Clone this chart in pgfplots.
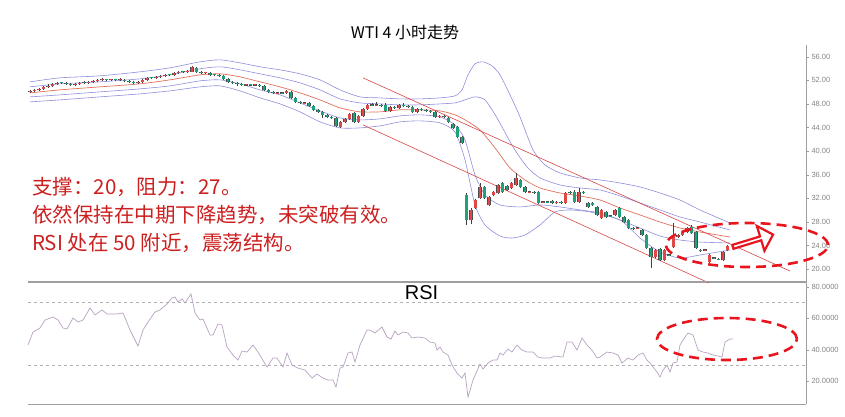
\documentclass[border=0pt]{standalone}
\usepackage{pgfplots}
\pgfplotsset{compat=1.18}
\usepackage{pgfplotstable}
\usepackage{fontspec}
\setmainfont{Liberation Sans}
\newfontfamily\cjk{Noto Sans CJK SC}
\usetikzlibrary{shapes.arrows}
\definecolor{upc}{HTML}{E04848}
\definecolor{dnc}{HTML}{1FA27A}
\definecolor{band}{HTML}{8E8EDC}
\definecolor{midc}{HTML}{E0705A}
\definecolor{chan}{HTML}{D84545}
\definecolor{rsic}{HTML}{B8A2C2}
\definecolor{annot}{HTML}{CC1F1F}
\definecolor{tickc}{HTML}{858585}
\definecolor{ellc}{HTML}{E8141E}

% up (red) candles: x, body bottom, body top, low, high
\pgfplotstableread{
x bot top low high
30 50.05 50.22 49.85 50.45
34.5 50.22 50.39 50.05 50.6
39 50.39 50.56 50.2 50.75
43.5 50.56 50.90 50.4 51.1
48 50.90 51.07 50.7 51.3
52.5 51.07 51.41 50.9 51.6
57 51.41 51.58 51.25 51.8
75 51.24 51.41 51.1 51.6
79.5 51.41 51.58 51.25 51.75
88.5 51.58 51.75 51.4 51.95
93 51.75 51.92 51.6 52.1
97.5 51.92 52.09 51.75 52.3
102 52.03 52.15 51.9 52.35
111 52.03 52.15 51.9 52.3
120 52.03 52.15 51.85 52.35
138 51.58 51.75 51.45 51.9
142.5 51.75 52.09 51.6 52.25
147 52.09 52.43 51.95 52.6
156 52.43 52.60 52.3 52.8
160.5 52.60 52.77 52.45 52.95
165 52.77 52.94 52.6 53.1
174 52.94 53.28 52.8 53.45
178.5 53.28 53.45 53.1 53.6
187.5 53.45 53.62 53.3 53.8
192 53.45 54.30 53.35 54.5
205.5 53.22 53.34 53.1 53.5
246 51.18 51.30 51.05 51.45
255 51.18 51.30 51.0 51.45
277.5 49.82 49.94 49.7 50.1
286.5 49.88 50.22 49.7 50.4
304.5 48.12 48.24 48.0 48.4
340.5 44.11 44.96 43.95 45.1
345 44.96 45.47 44.8 45.6
349.5 45.47 46.32 45.3 46.5
358.5 44.96 45.98 44.8 46.1
363 45.98 47.16 45.8 47.3
367.5 47.16 47.84 47.0 48.0
376.5 47.78 47.90 47.6 48.3
390 46.83 47.50 46.7 47.6
399 47.33 47.84 47.2 48.0
417 46.66 47.16 46.5 47.3
439.5 45.81 45.98 45.65 46.15
471 28.32 30.02 27.64 30.36
475.5 30.36 31.71 30.19 31.9
480 32.05 33.92 31.9 34.60
489 30.87 32.22 30.7 32.4
493.5 32.56 33.07 32.4 33.24
498 32.90 34.26 32.7 34.5
511.5 33.75 34.60 33.6 34.8
516 34.26 35.45 34.1 36.30
529.5 33.01 33.13 32.9 33.3
543 31.32 31.44 31.2 31.6
556.5 31.2 31.32 31.04 31.5
565.5 31.21 32.90 31.04 33.07
579 31.38 33.07 31.21 33.75
601.5 28.66 30.02 28.5 30.19
615 29.17 30.02 29.0 30.19
637.5 26.9 27.02 26.79 27.2
655.5 22.04 23.23 21.87 23.40
664.5 21.53 23.23 21.36 23.40
673.5 23.74 25.43 23.57 27.81
678 25.43 25.77 25.3 25.94
682.5 25.77 26.28 25.6 26.45
687 26.28 26.96 26.11 27.13
705 23.17 23.29 23.0 23.4
709.5 21.19 22.38 21.0 22.55
723 21.53 22.89 21.36 23.06
727.5 23.23 23.91 23.06 24.07
}\uptab

% down (green) candles
\pgfplotstableread{
x bot top low high
61.5 51.52 51.64 51.35 51.8
66 51.41 51.58 51.25 51.75
70.5 51.24 51.41 51.1 51.6
84 51.52 51.64 51.35 51.85
106.5 52.03 52.15 51.85 52.3
115.5 52.03 52.15 51.9 52.3
124.5 51.92 52.09 51.75 52.25
129 51.75 51.92 51.6 52.1
133.5 51.58 51.75 51.4 51.9
151.5 52.37 52.49 52.2 52.65
169.5 52.88 53.00 52.75 53.15
183 53.39 53.51 53.25 53.65
196.5 53.45 54.13 53.3 54.3
201 53.28 53.45 53.1 53.6
210 52.94 53.28 52.8 53.4
214.5 52.88 53.00 52.75 53.15
219 52.77 52.94 52.6 53.1
223.5 52.26 52.77 52.1 52.9
228 51.75 52.26 51.6 52.4
232.5 51.58 51.75 51.4 51.9
237 51.41 51.58 51.1 51.7
241.5 51.24 51.41 51.1 51.55
250.5 51.18 51.30 51.05 51.45
259.5 51.07 51.24 50.9 51.4
264 50.39 51.07 50.2 51.2
268.5 50.05 50.39 49.9 50.55
273 49.88 50.05 49.7 50.2
282 49.82 49.94 49.7 50.1
291 49.03 50.05 48.9 50.2
295.5 48.35 49.03 48.2 49.2
300 48.18 48.35 48.0 48.5
309 47.67 48.18 47.5 48.3
313.5 47.00 47.67 46.8 47.8
318 46.66 47.00 46.5 47.15
322.5 46.15 46.66 45.7 46.8
327 45.81 46.15 45.65 46.3
331.5 45.64 45.81 45.5 46.0
336 44.28 45.64 44.1 45.8
354 44.96 46.49 44.8 46.6
372 47.78 47.90 47.6 48.2
381 47.67 47.84 47.5 48.0
385.5 46.83 47.84 46.7 48.2
394.5 47.33 47.50 47.2 47.65
403.5 47.67 47.84 47.5 48.1
408 47.50 47.67 47.35 47.8
412.5 46.66 47.50 46.5 47.65
421.5 47.00 47.16 46.85 47.3
426 46.83 47.00 46.7 47.15
430.5 46.66 46.83 46.5 47.0
435 45.81 46.66 45.7 46.8
444 45.81 45.98 45.65 46.1
448.5 44.96 45.64 44.8 45.8
453 43.94 44.62 43.8 44.8
457.5 42.41 44.11 42.2 44.3
462 41.39 42.41 41.2 42.6
466.5 28.32 32.56 27.47 32.90
484.5 32.05 33.92 31.9 34.1
502.5 33.07 34.60 32.9 34.8
507 33.41 34.09 33.24 34.26
520.5 33.92 35.11 33.75 35.3
525 33.07 33.92 32.9 34.1
534 32.95 33.07 32.8 33.24
538.5 31.21 33.07 31.04 33.24
547.5 31.32 31.44 31.15 31.6
552 31.21 31.55 31.04 31.7
561 31.25 31.37 31.1 31.5
570 32.88 33.0 32.73 33.24
574.5 31.38 33.07 31.21 33.4
583.5 32.95 33.07 32.8 33.24
588 30.53 31.21 30.36 31.38
592.5 30.87 31.21 30.7 31.38
597 29.17 30.53 29.0 30.7
606 28.83 29.68 28.66 29.85
610.5 28.95 29.07 28.8 29.2
619.5 28.83 30.36 28.66 30.53
624 27.98 28.83 27.8 29.0
628.5 26.96 28.32 26.79 28.5
633 26.85 26.97 26.7 27.13
642 25.77 26.62 25.6 26.79
646.5 23.57 25.77 23.4 25.94
651 22.04 23.57 20.17 23.74
660 21.53 23.40 21.36 23.57
669 22.3 22.42 22.2 22.6
691.5 26.11 27.13 25.94 27.47
696 23.57 26.28 23.4 26.45
700.5 23.06 23.18 22.9 23.4
714 21.81 21.93 21.7 22.1
718.5 21.6 21.72 21.45 21.87
}\dntab

\begin{document}
\begin{tikzpicture}[x=1pt,y=1pt]
% ---------------- price panel ----------------
\begin{axis}[
  at={(28pt,134pt)}, anchor=south west,
  width=778pt, height=237pt, scale only axis,
  xmin=28, xmax=806, ymin=17.8, ymax=58,
  axis x line*=bottom, axis y line*=right,
  axis line style={draw=gray!75, -},
  xtick=\empty,
  ytick={20,24,...,56},
  tick align=outside, major tick length=3pt,
  tick style={draw=gray!75},
  yticklabel style={font=\fontsize{7.5}{8}\selectfont, text=tickc, xshift=-1pt},
  /pgf/number format/fixed, /pgf/number format/fixed zerofill,
  /pgf/number format/precision=2, /pgf/number format/assume math mode=true,
  clip=true,
]
% Bollinger-type bands
\addplot[band, line width=0.6pt, smooth, tension=0.4] coordinates {
(30,51.75)(60,52.43)(100,52.77)(140,53.45)(170,54.13)(200,55.14)(220,55.48)(240,54.97)(260,54.30)(280,53.79)(300,53.11)(320,52.09)(340,50.39)(360,49.20)(380,49.03)(400,48.86)(420,48.86)(440,49.03)(455,49.37)(462,50.39)(468,52.94)(475,54.80)(483,55.14)(492,54.47)(500,52.94)(510,49.54)(520,45.81)(533,40.20)(545,37.66)(560,36.30)(580,35.45)(600,35.11)(620,34.60)(640,33.92)(660,32.90)(680,31.71)(700,30.02)(730,27.81)};
\addplot[band, line width=0.6pt, smooth, tension=0.4] coordinates {
(30,50.90)(60,51.41)(100,51.75)(140,52.26)(170,52.94)(200,53.96)(220,54.30)(240,53.79)(260,53.11)(280,52.43)(300,51.58)(320,50.39)(340,48.86)(360,48.18)(380,48.01)(400,47.84)(420,47.84)(440,48.01)(455,48.18)(465,48.69)(475,49.20)(485,48.69)(497,45.64)(513,40.71)(527,37.32)(540,35.45)(560,34.26)(580,33.75)(600,33.41)(620,32.39)(640,31.21)(660,30.02)(680,28.83)(700,27.98)(730,26.62)};
\addplot[band, line width=0.6pt, smooth, tension=0.4] coordinates {
(30,49.20)(60,49.54)(100,50.05)(140,50.56)(170,51.07)(200,51.92)(220,52.09)(240,51.41)(260,50.39)(280,49.54)(300,48.18)(320,46.83)(340,45.64)(360,45.30)(380,45.47)(400,45.98)(420,46.15)(440,45.81)(455,44.45)(465,41.90)(475,35.96)(485,32.56)(500,30.87)(520,30.53)(540,30.87)(560,30.53)(580,30.02)(600,29.51)(620,28.32)(640,26.96)(660,25.60)(680,24.92)(700,24.58)(730,24.41)};
\addplot[band, line width=0.6pt, smooth, tension=0.4] coordinates {
(30,48.35)(60,48.69)(100,49.20)(140,49.71)(170,50.22)(200,50.90)(220,51.07)(240,50.22)(260,49.03)(280,48.01)(300,46.66)(320,44.96)(340,43.94)(360,43.94)(380,44.28)(400,44.96)(420,45.13)(440,44.79)(455,43.26)(465,38.51)(475,30.87)(485,27.47)(500,25.60)(512,25.26)(525,25.77)(540,27.47)(555,29.68)(570,30.02)(590,29.68)(620,28.32)(640,25.26)(660,22.89)(680,21.87)(700,22.38)(730,23.23)};
\addplot[midc, line width=0.7pt, smooth, tension=0.4] coordinates {
(30,49.88)(60,50.39)(100,50.90)(140,51.41)(170,52.09)(200,52.94)(220,53.11)(240,52.60)(260,51.75)(280,50.90)(300,49.88)(320,48.69)(340,47.33)(360,46.66)(380,46.66)(400,47.00)(420,47.00)(440,46.83)(455,46.15)(465,45.30)(480,43.60)(495,40.54)(510,37.15)(525,35.11)(540,33.75)(560,32.90)(580,32.39)(600,31.71)(620,30.36)(640,29.17)(660,27.98)(680,26.96)(700,26.28)(730,25.43)};
% channel lines
\addplot[chan, line width=0.6pt] coordinates {(363,52.43) (790,19.66)};
\addplot[chan, line width=0.6pt] coordinates {(363,44.45) (720,16.78)};
% wicks
\addplot[draw=none, mark=none, error bars/.cd, y dir=plus, y explicit, error mark=none,
  error bar style={draw=black!75, line width=0.6pt}]
  table[x=x, y=low, y error plus expr=\thisrow{high}-\thisrow{low}]{\uptab};
\addplot[draw=none, mark=none, error bars/.cd, y dir=plus, y explicit, error mark=none,
  error bar style={draw=black!75, line width=0.6pt}]
  table[x=x, y=low, y error plus expr=\thisrow{high}-\thisrow{low}]{\dntab};
% body outlines
\addplot[draw=none, mark=none, error bars/.cd, y dir=plus, y explicit, error mark=none,
  error bar style={draw=black!70, line width=3.6pt}]
  table[x=x, y expr=\thisrow{bot}-0.05, y error plus expr=\thisrow{top}-\thisrow{bot}+0.1]{\uptab};
\addplot[draw=none, mark=none, error bars/.cd, y dir=plus, y explicit, error mark=none,
  error bar style={draw=black!70, line width=3.6pt}]
  table[x=x, y expr=\thisrow{bot}-0.05, y error plus expr=\thisrow{top}-\thisrow{bot}+0.1]{\dntab};
% bodies
\addplot[draw=none, mark=none, error bars/.cd, y dir=plus, y explicit, error mark=none,
  error bar style={draw=upc, line width=2.9pt}]
  table[x=x, y=bot, y error plus expr=\thisrow{top}-\thisrow{bot}]{\uptab};
\addplot[draw=none, mark=none, error bars/.cd, y dir=plus, y explicit, error mark=none,
  error bar style={draw=dnc, line width=2.9pt}]
  table[x=x, y=bot, y error plus expr=\thisrow{top}-\thisrow{bot}]{\dntab};
\end{axis}

% ---------------- RSI panel ----------------
\begin{axis}[
  at={(28pt,12pt)}, anchor=south west,
  width=778pt, height=123pt, scale only axis,
  xmin=28, xmax=806, ymin=5.3, ymax=83.8,
  axis x line*=box, axis y line*=right,
  axis line style={draw=gray!75, -},
  xtick=\empty,
  ytick={20,40,60,80},
  tick align=outside, major tick length=3pt,
  tick style={draw=gray!75},
  yticklabel style={font=\fontsize{7.5}{8}\selectfont, text=tickc, xshift=-1pt},
  /pgf/number format/fixed, /pgf/number format/fixed zerofill,
  /pgf/number format/precision=4, /pgf/number format/assume math mode=true,
  clip=true,
]
\addplot[gray!60, dashed, line width=0.6pt] coordinates {(28,70) (806,70)};
\addplot[gray!60, dashed, line width=0.6pt] coordinates {(28,30) (806,30)};
\addplot[rsic, line width=0.7pt] coordinates {
(28,42.94)(33,51.24)(40,53.80)(45,58.91)(53,60.83)(58,58.91)(63,53.80)(67,53.16)(73,60.19)(78,57.64)(83,58.91)(90,66.58)(95,62.11)(102,65.30)(107,62.75)(117,62.75)(123,63.39)(130,52.52)(138,42.30)(143,52.52)(148,57.64)(155,64.03)(160,65.30)(167,69.14)(172,72.97)(175,73.61)(178,70.42)(182,72.33)(185,69.78)(191,75.53)(195,63.39)(200,58.91)(203,59.55)(210,49.33)(213,49.33)(218,56.36)(222,55.72)(227,41.66)(233,36.55)(238,33.35)(242,39.10)(247,38.47)(253,42.94)(258,38.47)(267,28.88)(273,34.63)(277,34.63)(283,28.88)(287,37.83)(292,30.16)(298,28.24)(305,26.96)(312,21.85)(317,24.41)(323,21.85)(328,20.57)(333,20.57)(336,16.10)(340,28.24)(343,28.88)(348,37.83)(352,38.47)(355,32.08)(360,42.94)(367,52.52)(370,52.52)(375,50.61)(382,54.44)(387,48.05)(391,46.78)(395,51.88)(398,49.33)(403,51.24)(408,50.61)(412,47.41)(418,48.05)(425,47.41)(430,44.86)(435,44.22)(437,39.74)(440,41.66)(443,38.47)(448,36.55)(452,30.16)(457,25.05)(462,21.85)(465,25.05)(468,9.71)(473,20.57)(480,30.80)(483,27.60)(488,31.44)(493,33.35)(497,33.35)(500,37.83)(503,36.55)(508,40.38)(512,38.47)(517,42.94)(522,39.74)(527,38.47)(533,38.47)(538,35.27)(543,34.63)(550,34.63)(555,35.91)(563,35.27)(567,44.86)(572,44.86)(577,39.74)(582,47.41)(587,42.94)(592,39.74)(597,34.63)(600,35.27)(607,38.47)(613,37.83)(618,36.55)(622,31.44)(628,34.63)(633,33.35)(638,36.55)(643,37.83)(647,33.35)(650,31.44)(657,25.69)(660,22.49)(663,26.96)(667,30.16)(670,25.69)(673,31.44)(677,32.08)(680,42.94)(683,46.13)(688,50.61)(693,49.33)(698,39.74)(703,38.47)(708,37.83)(713,36.55)(718,35.91)(722,35.27)(725,44.86)(730,46.78)(733,46.78)};
\end{axis}

% ---------------- annotations ----------------
\node[font=\cjk\fontsize{16}{18}\selectfont] at (405,384) {WTI 4 小时走势};
\node[anchor=west, font=\cjk\fontsize{20.5}{28}\selectfont, text=annot, align=left, inner sep=0pt] at (32,201) {支撑：20，阻力：27。\\依然保持在中期下降趋势，未突破有效。\\RSI 处在 50 附近，震荡结构。};
\node[font=\fontsize{20}{22}\selectfont, inner sep=0pt] at (421.5,123.5) {RSI};
\draw[ellc, line width=2.6pt, dash pattern=on 10pt off 6pt] (747,171) ellipse [x radius=81, y radius=22];
\draw[ellc, line width=2.6pt, dash pattern=on 10pt off 6pt] (727,77) ellipse [x radius=70, y radius=21];
\node[single arrow, draw=ellc, fill=white, line width=2.2pt, minimum height=42pt, minimum width=26pt,
  single arrow head extend=6pt, inner sep=0pt, rotate=17] at (752,175) {};

\pgfresetboundingbox
\useasboundingbox (0,0) rectangle (845,416);
\end{tikzpicture}
\end{document}
